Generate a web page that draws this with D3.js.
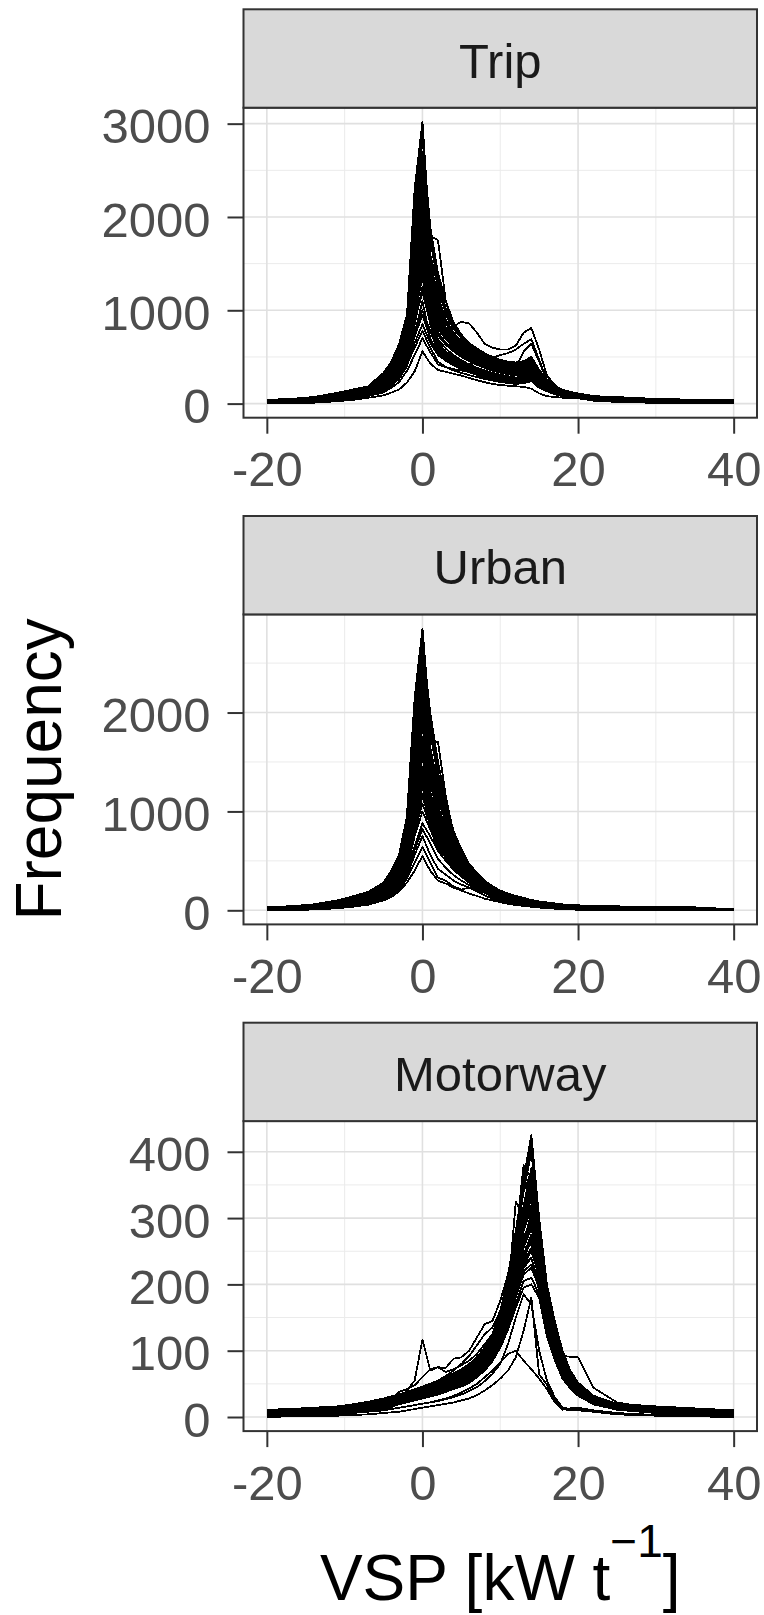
<!DOCTYPE html>
<html><head><meta charset="utf-8">
<script src="https://cdn.jsdelivr.net/npm/d3@7"></script>
<style>body{margin:0;background:#fff}</style>
</head><body>
<svg id="chart" width="764" height="1615"></svg>
<script>
// ---------------- DATA ----------------
const vspBins = [-20,-17,-14,-11,-9,-7,-5,-4,-3,-2,-1,0,1,2,3,4,5,6,7,8,9,10,11,12,13,14,15,16,17,18,19,20,22,25,30,35,40];
const panelNames = ["Trip", "Urban", "Motorway"];
const xTicks = [-20, 0, 20, 40];
const xTickLabels = ["-20", "0", "20", "40"];
const tripYTicks = [0, 1000, 2000, 3000];
const urbanYTicks = [0, 1000, 2000];
const motorwayYTicks = [0, 100, 200, 300, 400];
const yTitle = "Frequency";
const xTitleMain = "VSP [kW t", xTitleSup = "\u22121", xTitleEnd = "]";

const tripSeries = [
[35,45,62,105,140,175,320,440,620,930, 2300, 3020, 1750,1300,950,800,700,620,560,520,490,460,440,420,430,480,330, 240,175,135,112,100,76,62,45,36,30],
[40,50,70,115,150,185,330,450,640,950, 2100, 2950, 1820,1350,1020,840,720,635,575,530,500,470,450,435,450,495,345, 250,180,140,118,105,78,66,48,38,32],
[30,42,60,100,135,170,300,420,600,900, 1900, 2850, 1900,1400,1100,870,740,650,590,540,500,470,450,440,455,500,360, 260,190,150,125,110,80,70,50,42,35],
[38,48,66,110,145,180,310,430,580,880, 2000, 2700, 1600,1250,1000,830,720,640,580,530,495,465,445,430,440,490,350, 245,178,138,115,102,74,64,44,35,28],
[28,40,57,96,130,165,290,400,560,850, 1850, 2620, 1450,1200,980,820,700,625,568,520,485,455,432,418,430,470,335, 235,170,130,110,98,72,60,42,33,26],
[32,44,60,98,132,168,280,390,540,820, 1700, 2550, 1500,1150,900,760,670,600,545,505,470,445,420,405,420,460,320, 225,165,126,106,95,70,58,40,31,25],
[25,38,54,92,126,160,270,375,520,800, 1800, 2400, 1550,1100,880,740,650,580,530,490,460,430,410,395,410,450,310, 220,160,122,103,92,68,56,38,30,24],
[30,40,55,90,122,156,262,360,500,780, 1650, 2320, 1400,1050,860,720,640,575,525,485,455,425,405,390,400,440,305, 215,158,120,101,90,66,54,37,28,22],
[22,35,50,86,118,150,255,350,490,760, 1500, 2250, 1800,1750,1100,820,700,620,560,510,475,445,420,400,410,440,300, 210,155,118,99,88,64,52,35,27,21],
[26,36,52,84,115,148,248,340,470,740, 1400, 2100, 1350,1000,800,700,620,560,510,470,440,410,390,375,385,420,290, 205,150,115,97,86,62,50,34,26,20],
[20,33,48,80,110,142,240,330,455,720, 1550, 2000, 1250,950,780,680,600,545,500,460,430,400,380,365,375,410,280, 200,146,112,95,84,60,48,32,24,18],
[24,34,50,82,112,145,235,320,445,700, 1350, 1950, 1200,920,770,670,592,538,492,455,425,398,378,362,372,405,275, 196,143,110,93,82,58,46,31,23,17],
[18,30,45,76,106,138,228,310,430,680, 1250, 1900, 1300,900,760,660,585,530,485,450,420,395,375,360,370,400,270, 192,140,108,91,80,56,45,30,22,16],
[21,31,44,74,104,135,220,300,415,650, 1300, 1800, 1150,850,720,640,570,515,470,435,405,380,360,345,355,390,260, 188,136,105,89,78,55,43,28,20,15],
[15,27,41,70,100,130,212,290,400,630, 1150, 1700, 1100,800,690,610,545,495,455,420,390,365,345,330,340,375,250, 184,132,102,87,76,53,41,27,19,14],
[18,29,42,72,98,128,205,280,385,610, 1100, 1650, 1050,760,650,575,515,468,428,395,366,343,324,310,318,350,235, 180,128,100,85,75,52,40,26,18,13],
[12,25,38,66,94,124,198,270,370,590, 1050, 1600, 1000,730,630,560,500,455,415,382,354,332,314,300,308,338,228, 176,125,98,83,73,50,38,25,17,12],
[14,24,36,62,90,120,190,260,355,560, 1000, 1500, 950,680,590,520,465,420,385,355,330,310,292,280,288,318,215, 170,120,95,81,71,48,36,23,16,11],
[10,21,33,58,86,115,180,248,340,530, 900, 1400, 900,620,540,480,430,390,360,330,305,285,270,258,265,295,200, 160,115,92,79,69,46,34,22,15,10],
[16,26,39,68,96,126,200,275,380,580, 950, 1400, 1000,860,800,830,875,860,760,640,600,580,580,620,760,810,580, 300,200,140,110,90,66,50,34,24,18],
[8,19,30,55,82,110,172,238,325,505, 950, 1350, 920,650,560,490,440,400,365,335,310,290,275,262,270,300,205, 155,112,90,77,67,45,33,21,14,9],
[11,20,31,52,78,106,165,228,310,480, 850, 1250, 850,580,500,440,400,360,330,305,282,265,250,240,248,275,190, 148,108,87,75,65,43,31,20,13,8],
[6,15,26,47,72,100,152,212,290,440, 750, 1100, 700,520,460,410,370,335,308,285,265,248,235,225,232,258,180, 140,104,84,73,63,41,29,18,12,7],
[9,17,28,50,75,103,158,220,300,460, 780, 1000, 780,560,480,420,380,345,315,292,272,255,242,232,238,262,185, 144,106,86,74,64,42,30,19,12,8],
[5,12,22,42,66,92,140,195,265,400, 650, 850, 650,520,470,440,420,420,440,470,490,520,540,580,640,690,470, 250,165,118,95,80,58,44,30,20,14],
[7,14,24,44,68,95,145,200,275,420, 600, 780, 600,450,390,355,330,305,285,265,248,232,220,212,218,240,170, 132,100,80,70,61,39,27,16,10,6],
[3,9,16,34,55,80,120,170,230,350, 520, 700, 550,420,390,370,355,340,330,320,310,300,300,380,560,640,450, 240,160,115,92,78,56,42,28,18,12],
[0,5,10,25,40,62,88,118,152,225, 345, 560, 430,360,340,320,300,275,250,230,210,200,192,185,180,160,110, 80,70,64,60,56,32,18,8,4,2],
[27,39,56,94,128,162,285,395,550,835, 1750, 2480, 1480,1120,900,760,660,590,532,488,452,422,400,385,395,440,305, 218,160,122,104,93,67,56,38,29,23],
[19,32,47,78,108,140,238,325,450,710, 1450, 2050, 1280,930,760,655,575,518,470,432,400,372,352,338,348,385,262, 195,142,109,92,81,57,45,30,22,16],
[13,26,39,68,96,126,210,285,390,615, 1200, 1750, 1120,820,690,600,525,470,425,390,360,336,318,304,312,348,240, 182,130,101,86,75,52,40,26,18,13],
[9,22,35,60,88,117,188,255,350,545, 1020, 1550, 980,690,590,515,455,408,370,340,314,294,278,266,274,305,210, 165,118,93,80,70,47,35,22,15,10],
[7,18,29,53,80,108,172,236,322,500, 920, 1450, 930,640,545,470,410,365,330,302,280,262,248,238,245,272,192, 152,110,88,76,66,44,32,20,13,8],
[11,23,35,60,88,118,192,262,360,565, 1120, 1850, 1180,860,720,620,540,480,432,396,366,340,320,306,314,348,236, 178,128,100,85,74,51,39,25,17,12],
[5,14,25,46,70,97,148,205,282,430, 720, 950, 700,530,470,420,385,350,320,296,276,258,244,232,238,262,182, 142,104,83,72,62,40,28,17,11,6],
[23,36,52,88,120,154,258,352,485,770, 1600, 2180, 1380,1000,820,700,618,556,508,470,438,410,390,376,386,425,292, 206,150,116,98,87,62,50,34,25,19],
[8,18,30,54,80,110,168,232,318,490, 880, 1200, 860,600,520,460,415,375,340,312,288,268,252,240,246,270,188, 150,108,86,74,64,43,31,19,12,7],
[17,28,41,70,100,130,215,292,400,635, 1180, 1750, 1200,880,740,640,560,500,450,410,378,352,332,318,326,360,246, 182,130,101,86,76,52,40,26,18,13]
];

const urbanSeries = [
[30,40,60,100,140,185,280,400,560,950,2150, 2850, 1900,1300,1000,760,600,460,370,290,240,195,165,140,120,100,88,78,68,58,52,48, 44,38,32,26,8],
[25,38,55,95,135,175,270,380,540,900,1900, 2700, 2000,1500,1100,800,620,470,380,300,245,200,170,145,125,105,90,80,70,60,54,50, 46,40,34,30,10],
[20,35,50,90,130,170,260,360,500,850,1750, 2550, 1700,1700,1150,780,580,440,350,280,230,190,160,135,115,98,85,75,65,55,50,45, 36,30,24,18,5],
[28,42,58,98,138,180,250,340,480,800,1600, 2400, 1600,1200,950,720,560,430,345,275,225,185,155,130,110,95,82,72,62,53,47,42, 34,28,22,16,4],
[18,30,48,85,125,165,240,330,460,760,1500, 2250, 1500,1100,900,700,540,420,335,270,220,180,150,128,108,92,80,70,60,51,45,40, 32,26,20,14,3],
[22,34,52,88,128,160,235,320,440,720,1400, 2100, 1650,1250,850,650,510,400,320,255,210,172,145,122,104,88,76,66,57,48,42,38, 30,24,18,28,3],
[15,28,45,80,118,158,225,300,420,680,1300, 1950, 1350,1000,820,630,500,390,310,250,205,168,140,118,100,85,73,64,55,47,41,36, 28,22,16,12,2],
[12,26,42,76,112,150,220,290,400,650,1250, 1850, 1300,950,780,600,480,375,300,240,198,162,135,114,96,82,71,62,53,45,39,34, 26,20,15,11,2],
[16,24,40,72,108,145,210,280,390,620,1200, 1750, 1200,920,750,580,465,365,290,232,190,156,130,110,93,79,68,59,51,43,37,32, 25,19,14,10,1],
[10,22,38,68,104,140,205,270,370,600,1100, 1650, 1150,880,720,560,450,355,282,225,185,152,126,107,90,77,66,57,49,41,35,30, 23,18,13,9,1],
[14,20,35,65,100,135,195,260,360,570,1050, 1550, 1100,840,690,540,435,345,275,220,180,148,122,104,87,74,63,55,47,39,33,28, 22,16,12,8,1],
[8,18,32,60,95,128,185,250,340,540,1000, 1450, 1050,800,660,520,420,335,268,214,175,144,118,100,84,71,61,53,45,37,31,26, 20,15,11,7,0],
[12,16,30,56,90,120,178,240,330,510,950, 1350, 1000,760,630,500,405,325,260,208,170,140,115,97,81,68,58,50,42,35,29,24, 18,13,10,6,0],
[6,14,28,52,85,115,170,230,310,480,900, 1250, 950,720,600,480,390,315,252,202,165,135,111,93,78,65,55,47,40,33,27,22, 16,12,8,5,0],
[10,12,25,48,80,110,160,220,300,450,850, 1150, 900,680,570,455,375,305,245,195,160,130,107,90,75,62,52,44,37,30,25,20, 15,11,7,5,0],
[5,10,22,44,74,104,150,205,280,420,750, 1000, 820,630,530,430,355,290,235,188,154,126,104,87,72,60,50,42,35,28,23,18, 14,10,6,4,0],
[8,9,20,40,68,98,140,190,260,390,650, 880, 750,600,500,410,340,280,226,182,148,121,100,84,70,58,48,40,33,27,22,17, 13,9,5,3,0],
[3,7,16,34,60,88,125,170,230,350,560, 750, 560,420,360,300,260,230,210,175,140,115,95,80,66,55,46,38,31,25,20,16, 12,8,5,2,0],
[4,5,12,28,50,75,110,150,210,320,480, 640, 480,330,300,240,210,230,190,150,120,98,80,65,53,44,36,30,24,19,15,12, 9,6,3,1,0],
[0,3,8,20,36,56,100,135,190,280,400, 550, 400,300,270,230,200,170,145,118,100,82,66,54,44,36,28,22,17,13,9,6, 4,3,2,1,0],
[27,39,57,97,138,180,275,390,550,920,2050, 2780, 1950,1400,1050,780,610,465,375,295,242,198,168,142,122,102,89,79,69,59,53,49, 45,39,33,28,9],
[24,40,56,93,134,176,255,350,490,820,1680, 2480, 1650,1250,980,740,570,435,348,278,228,188,158,132,112,96,83,73,63,54,48,43, 35,29,23,17,4],
[20,32,50,86,126,162,238,325,450,740,1450, 2180, 1550,1150,880,680,525,410,328,262,215,176,148,125,106,90,78,68,58,50,43,39, 31,25,19,13,3],
[13,27,44,78,115,154,222,295,410,665,1280, 1900, 1320,980,800,615,490,380,305,245,202,165,138,116,98,84,72,63,54,46,40,35, 27,21,15,11,2],
[12,21,36,66,102,138,200,265,365,585,1080, 1600, 1120,860,705,550,442,350,278,222,182,150,124,105,88,75,64,56,48,40,34,29, 22,17,12,8,1],
[9,15,29,54,88,118,174,235,320,495,920, 1300, 980,740,615,490,398,320,256,205,168,138,113,95,80,66,56,48,41,34,28,23, 17,12,9,5,0],
[7,11,24,46,77,107,155,212,290,435,800, 1080, 860,655,550,442,365,298,240,192,157,128,105,88,73,61,51,43,36,29,24,19, 14,10,6,4,0],
[5,8,18,37,64,93,132,180,245,370,610, 820, 680,520,430,355,300,255,218,178,144,118,97,82,68,56,47,39,32,26,21,17, 12,8,5,3,0],
[26,38,56,94,134,176,268,375,525,870,1800, 2620, 1800,1350,1030,770,595,455,365,288,236,194,164,138,118,99,86,76,66,57,51,46, 42,36,30,24,7],
[21,33,51,88,128,166,245,335,470,780,1550, 2320, 1580,1180,920,700,545,425,340,272,222,183,153,129,109,93,80,70,60,51,45,40, 33,27,21,15,3],
[15,29,46,82,120,158,228,305,425,700,1350, 2020, 1420,1050,840,640,505,395,315,252,207,170,142,120,102,87,75,65,56,48,42,37, 29,23,17,12,2],
[11,23,38,70,106,142,205,275,380,610,1150, 1700, 1180,900,740,570,455,360,287,230,190,156,130,110,92,79,68,58,50,43,37,32, 24,18,13,9,1],
[8,17,31,58,92,124,180,245,335,525,980, 1400, 1020,780,640,505,410,328,262,210,172,142,117,99,83,70,60,51,44,37,31,26, 19,14,10,6,0],
[6,12,26,50,82,112,162,222,300,470,860, 1180, 900,690,570,460,378,305,246,197,161,132,109,91,76,64,54,46,39,32,27,22, 16,12,8,5,0]
];

const motorwaySeries = [
[11,12,14,16,19,23,28,31,34,38,42, 46, 50,55,60,66,72,80,90,105,125,160,210,280,360,425,300,200,145,100,70,52, 32,20,16,13,10],
[9,10,12,14,17,21,25,29,32,36,40, 44, 48,52,57,62,68,76,86,100,120,150,195,260,340,400,290,185,125,85,62,48, 30,19,14,11,8],
[6,8,9,11,14,18,23,27,31,35,38, 42, 46,50,55,60,66,74,84,98,118,150,200,270,380,360,280,180,120,82,60,46, 29,18,11,8,5],
[5,7,9,11,13,17,22,26,30,34,37, 41, 44,48,52,58,64,72,82,96,115,145,190,250,310,360,270,175,118,80,58,45, 28,17,11,8,5],
[6,7,8,10,13,16,21,25,29,33,36, 40, 43,47,51,56,62,70,80,92,112,140,185,325,300,345,260,170,115,78,56,44, 27,16,10,7,4],
[5,6,8,10,12,15,20,24,28,31,35, 38, 42,46,50,55,60,68,78,90,108,135,175,230,290,330,250,165,112,76,55,42, 26,16,10,7,4],
[4,6,7,9,12,15,19,23,27,30,34, 37, 40,44,48,53,58,66,76,88,105,130,170,220,280,315,245,160,108,74,53,41, 25,15,9,6,4],
[5,6,7,9,11,14,18,22,26,29,32, 36, 39,43,47,52,57,64,74,86,102,125,165,215,270,300,240,155,105,72,52,40, 24,14,9,6,3],
[4,5,6,8,11,14,18,21,25,28,31, 35, 38,42,46,50,55,62,72,84,100,122,160,205,255,285,230,150,102,70,50,38, 23,14,8,6,3],
[3,5,6,8,10,13,17,20,24,27,30, 34, 37,40,44,49,54,60,70,82,98,120,155,200,245,270,220,145,100,68,49,37, 22,13,8,5,3],
[4,4,5,7,10,12,16,19,23,26,29, 33, 36,39,43,47,52,58,68,80,95,115,150,190,235,255,210,140,98,66,48,36, 22,13,8,5,3],
[3,4,5,7,9,12,15,18,22,25,28, 32, 35,38,42,46,50,56,66,78,92,112,145,185,225,240,200,135,95,64,46,35, 21,12,7,5,2],
[2,3,4,6,9,11,15,18,21,24,27, 31, 34,37,40,44,48,54,64,76,90,108,140,180,215,225,195,130,92,62,45,34, 20,12,7,4,2],
[3,3,4,6,8,11,14,17,20,23,26, 30, 33,36,39,43,47,52,62,74,88,105,135,170,205,210,185,125,88,60,44,33, 20,11,7,4,2],
[2,3,4,5,7,9,12,15,20,40,55, 117, 70,75,68,72,78,85,95,110,125,150,180,210,230,240,190,130,90,60,44,33, 20,11,6,4,2],
[3,4,5,7,9,12,18,25,38,42,48, 60, 72,75,74,88,90,100,120,140,145,175,215,280,340,370,270,170,110,75,55,42, 26,15,9,6,4],
[2,3,4,5,6,8,10,12,14,16,18, 20, 22,25,28,32,37,43,50,60,70,82,95,100,85,72,58,42,22,11,13,14, 10,6,3,2,1],
[3,4,5,6,8,10,13,16,19,22,25, 28, 31,34,38,42,46,52,60,70,84,105,140,200,260,310,220,140,100,92,91,90, 44,22,12,8,5],
[2,2,3,4,6,8,10,12,14,16,18, 20, 22,24,27,30,34,39,45,54,65,80,110,150,185,170,100,55,30,14,12,12, 9,6,3,1,0],
[0,1,1,2,3,4,6,7,8,10,12, 14, 16,18,20,22,25,28,33,40,48,58,70,90,130,180,64,49,25,12,10,10, 8,4,2,1,0],
[7,9,10,12,15,19,25,29,33,37,41, 45, 49,53,58,64,70,78,88,102,122,155,205,275,350,410,295,192,128,88,64,50, 31,19,12,9,6],
[6,7,9,11,14,17,22,26,30,33,37, 40, 43,47,51,56,62,70,80,93,112,142,188,245,300,350,275,172,116,79,57,44, 27,16,10,7,4],
[5,6,8,10,12,15,20,24,27,31,34, 38, 41,45,49,54,59,67,77,89,106,132,172,225,285,320,250,162,110,75,54,42, 25,15,9,6,4],
[4,5,7,9,11,14,18,22,25,29,32, 35, 38,41,45,50,55,62,72,84,100,124,162,208,258,290,235,152,104,71,51,39, 23,14,9,6,3],
[3,5,6,8,10,13,17,20,23,27,30, 33, 36,39,43,47,52,58,68,80,96,118,152,195,240,265,215,142,99,67,48,37, 22,13,8,5,3],
[3,4,5,7,9,11,15,18,21,24,27, 31, 34,37,41,45,49,55,65,77,91,110,142,182,220,230,198,132,93,63,45,34, 20,12,7,4,2],
[2,3,4,6,8,10,14,17,20,23,26, 29, 32,35,38,42,46,51,60,72,86,104,132,165,195,200,180,122,86,58,43,32, 19,11,6,4,2],
[4,5,6,8,10,13,17,21,26,30,35, 42, 48,55,62,70,80,92,108,125,135,160,200,235,255,260,205,140,96,66,48,36, 22,13,8,5,3],
[8,9,11,13,16,20,26,30,33,37,41, 45, 49,54,59,65,71,79,89,103,123,158,208,278,355,418,298,196,135,94,67,51, 32,20,14,11,8],
[6,7,9,11,14,18,23,27,31,34,38, 41, 45,49,53,58,64,72,82,95,114,146,192,252,318,375,280,178,120,82,59,45, 28,17,11,8,5],
[5,6,8,10,12,16,20,24,28,32,35, 39, 42,46,50,55,61,68,78,91,109,138,180,232,292,335,262,168,114,78,56,43, 26,16,10,7,4],
[4,5,7,9,11,14,19,22,26,29,33, 36, 39,42,46,51,56,63,73,86,103,128,166,212,262,295,245,158,108,74,53,40, 24,14,9,6,3],
[3,4,6,8,10,13,17,20,24,27,30, 34, 37,40,44,48,53,60,70,82,98,120,155,198,245,275,225,150,104,70,50,38, 22,13,8,5,3],
[3,4,5,7,9,12,16,19,22,25,28, 32, 35,38,42,46,50,57,67,79,94,114,146,186,230,250,212,142,100,68,48,36, 21,12,7,5,2]
];

// ---------------- LAYOUT ----------------
const svg = d3.select("#chart");
const font = "'Liberation Sans', Arial, Helvetica, sans-serif";
const plotLeft = 243.5, plotRight = 757;
const stripTop0 = 9.3, stripH = 98.4, plotH = 310, pitch = 506.7;
const tickLen = 16;

const xExt = d3.extent(vspBins), xPad = (xExt[1] - xExt[0]) * 0.05;
const x = d3.scaleLinear().domain([xExt[0] - xPad, xExt[1] + xPad]).range([plotLeft, plotRight]);

function minorBreaks(ticks, domain) {
  const step = ticks[1] - ticks[0];
  const out = [];
  for (let v = ticks[0] - step / 2; v <= ticks[ticks.length - 1] + step / 2 + 1e-9; v += step) {
    if (v >= domain[0] && v <= domain[1]) out.push(v);
  }
  return out;
}

const panels = [
  { name: panelNames[0], series: tripSeries, ticks: tripYTicks },
  { name: panelNames[1], series: urbanSeries, ticks: urbanYTicks },
  { name: panelNames[2], series: motorwaySeries, ticks: motorwayYTicks }
];

const xMinor = minorBreaks(xTicks, x.domain());

panels.forEach((p, i) => {
  const sTop = stripTop0 + i * pitch;
  const pTop = sTop + stripH, pBot = pTop + plotH;
  const yExt = d3.extent(p.series.flat()), yPad = (yExt[1] - yExt[0]) * 0.05;
  const y = d3.scaleLinear().domain([yExt[0] - yPad, yExt[1] + yPad]).range([pBot, pTop]);
  const yMinor = minorBreaks(p.ticks, y.domain());
  const g = svg.append("g");

  g.append("rect").attr("x", plotLeft).attr("y", pTop).attr("width", plotRight - plotLeft).attr("height", plotH).attr("fill", "#fff");

  g.selectAll(".gxm").data(xMinor).enter().append("line")
    .attr("x1", d => x(d)).attr("x2", d => x(d)).attr("y1", pTop).attr("y2", pBot)
    .attr("stroke", "#EBEBEB").attr("stroke-width", 1);
  g.selectAll(".gym").data(yMinor).enter().append("line")
    .attr("y1", d => y(d)).attr("y2", d => y(d)).attr("x1", plotLeft).attr("x2", plotRight)
    .attr("stroke", "#EBEBEB").attr("stroke-width", 1);
  g.selectAll(".gx").data(xTicks).enter().append("line")
    .attr("x1", d => x(d)).attr("x2", d => x(d)).attr("y1", pTop).attr("y2", pBot)
    .attr("stroke", "#E0E0E0").attr("stroke-width", 1.6);
  g.selectAll(".gy").data(p.ticks).enter().append("line")
    .attr("y1", d => y(d)).attr("y2", d => y(d)).attr("x1", plotLeft).attr("x2", plotRight)
    .attr("stroke", "#E0E0E0").attr("stroke-width", 1.6);

  const line = d3.line().x((d, k) => x(vspBins[k])).y(d => y(d));
  g.selectAll(".series").data(p.series).enter().append("path")
    .attr("d", line).attr("fill", "none").attr("stroke", "#000")
    .attr("stroke-width", 1.8).attr("stroke-linejoin", "round")
    .attr("shape-rendering", "crispEdges");

  g.append("rect").attr("x", plotLeft).attr("y", pTop).attr("width", plotRight - plotLeft).attr("height", plotH)
    .attr("fill", "none").attr("stroke", "#333333").attr("stroke-width", 2);

  g.append("rect").attr("x", plotLeft).attr("y", sTop).attr("width", plotRight - plotLeft).attr("height", stripH)
    .attr("fill", "#D9D9D9").attr("stroke", "#333333").attr("stroke-width", 2);
  g.append("text").attr("x", (plotLeft + plotRight) / 2).attr("y", sTop + stripH / 2).attr("dy", "0.39em")
    .attr("text-anchor", "middle").attr("font-family", font).attr("font-size", 49).attr("fill", "#1A1A1A")
    .text(p.name);

  const ya = g.append("g").attr("transform", `translate(${plotLeft},0)`)
    .call(d3.axisLeft(y).tickValues(p.ticks).tickFormat(d => String(d)).tickSize(tickLen).tickPadding(17));
  ya.select(".domain").remove();
  ya.selectAll(".tick line").attr("stroke", "#333333").attr("stroke-width", 2);
  ya.selectAll(".tick text").attr("font-family", font).attr("font-size", 49).attr("fill", "#4D4D4D").attr("dy", "0.39em");

  const xa = g.append("g").attr("transform", `translate(0,${pBot})`)
    .call(d3.axisBottom(x).tickValues(xTicks).tickFormat((d, k) => xTickLabels[k]).tickSize(tickLen).tickPadding(18));
  xa.select(".domain").remove();
  xa.selectAll(".tick line").attr("stroke", "#333333").attr("stroke-width", 2);
  xa.selectAll(".tick text").attr("font-family", font).attr("font-size", 49).attr("fill", "#4D4D4D");
});

const firstPlotTop = stripTop0 + stripH;
const lastPlotBot = stripTop0 + 2 * pitch + stripH + plotH;
svg.append("text")
  .attr("transform", `translate(61,${(firstPlotTop + lastPlotBot) / 2}) rotate(-90)`)
  .attr("text-anchor", "middle").attr("font-family", font).attr("font-size", 64).attr("fill", "#000")
  .text(yTitle);

const xt = svg.append("text").attr("x", (plotLeft + plotRight) / 2).attr("y", 1600)
  .attr("text-anchor", "middle").attr("font-family", font).attr("font-size", 64).attr("fill", "#000");
xt.append("tspan").text(xTitleMain);
xt.append("tspan").attr("font-size", 46).attr("dy", -43).text(xTitleSup);
xt.append("tspan").attr("font-size", 64).attr("dy", 43).text(xTitleEnd);
</script>
</body></html>
